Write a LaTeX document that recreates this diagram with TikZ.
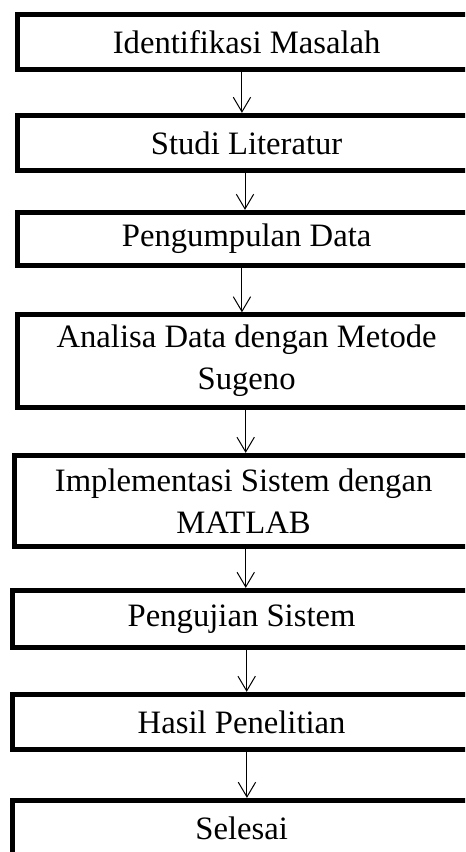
\documentclass[tikz,border=0pt]{standalone}
\usepackage{fontspec}
\setmainfont{Liberation Serif}
\usetikzlibrary{arrows.meta}

\tikzset{every picture/.style={line width=0.75pt}}
\tikzset{
  kotak/.style={draw, rectangle, line width=3.6pt, minimum width=344pt, inner sep=0pt, align=center, font=\fontsize{24.5pt}{31.5pt}\selectfont},
  panah/.style={-{Straight Barb[length=11pt,width=13pt]}, line width=0.75pt}
}

\begin{document}
\begin{tikzpicture}[x=0.75pt,y=0.75pt,yscale=-1,xscale=1]
%set diagram left start at 0, and has height of 852
\useasboundingbox (0,0) rectangle (465,852);
\clip (0,0) rectangle (465,852);

% Boxes
\node[kotak, minimum height=41.6pt] (identifikasi) at (246.6,42) {Identifikasi Masalah};
\node[kotak, minimum height=41.6pt] (studi) at (246.6,143) {Studi Literatur};
\node[kotak, minimum height=40.1pt] (pengumpulan) at (246.6,239) {Pengumpulan Data};
\node[kotak, minimum height=69.4pt] (analisa) at (246.6,361) {Analisa Data dengan Metode\\Sugeno};
\node[kotak, minimum height=68.6pt] (implementasi) at (243.6,501) {Implementasi Sistem dengan\\MATLAB};
\node[kotak, minimum height=43.1pt] (pengujian) at (241.6,619) {Pengujian Sistem};
\node[kotak, minimum height=41.6pt] (hasil) at (241.6,722) {Hasil Penelitian};
\node[kotak, minimum height=41.6pt] (selesai) at (241.6,828) {Selesai};

% Arrows
\draw[panah] ([xshift=-3.5pt]identifikasi.south) -- ([xshift=-3.5pt]identifikasi.south |- studi.north);
\draw[panah] ([xshift=-1.2pt]studi.south) -- ([xshift=-1.2pt]studi.south |- pengumpulan.north);
\draw[panah] ([xshift=-3.5pt]pengumpulan.south) -- ([xshift=-3.5pt]pengumpulan.south |- analisa.north);
\draw[panah] ([xshift=-0.7pt]analisa.south) -- ([xshift=-0.7pt]analisa.south |- implementasi.north);
\draw[panah] ([xshift=1.6pt]implementasi.south) -- ([xshift=1.6pt]implementasi.south |- pengujian.north);
\draw[panah] ([xshift=3.8pt]pengujian.south) -- ([xshift=3.8pt]pengujian.south |- hasil.north);
\draw[panah] ([xshift=4pt]hasil.south) -- ([xshift=4pt]hasil.south |- selesai.north);

\end{tikzpicture}
\end{document}
